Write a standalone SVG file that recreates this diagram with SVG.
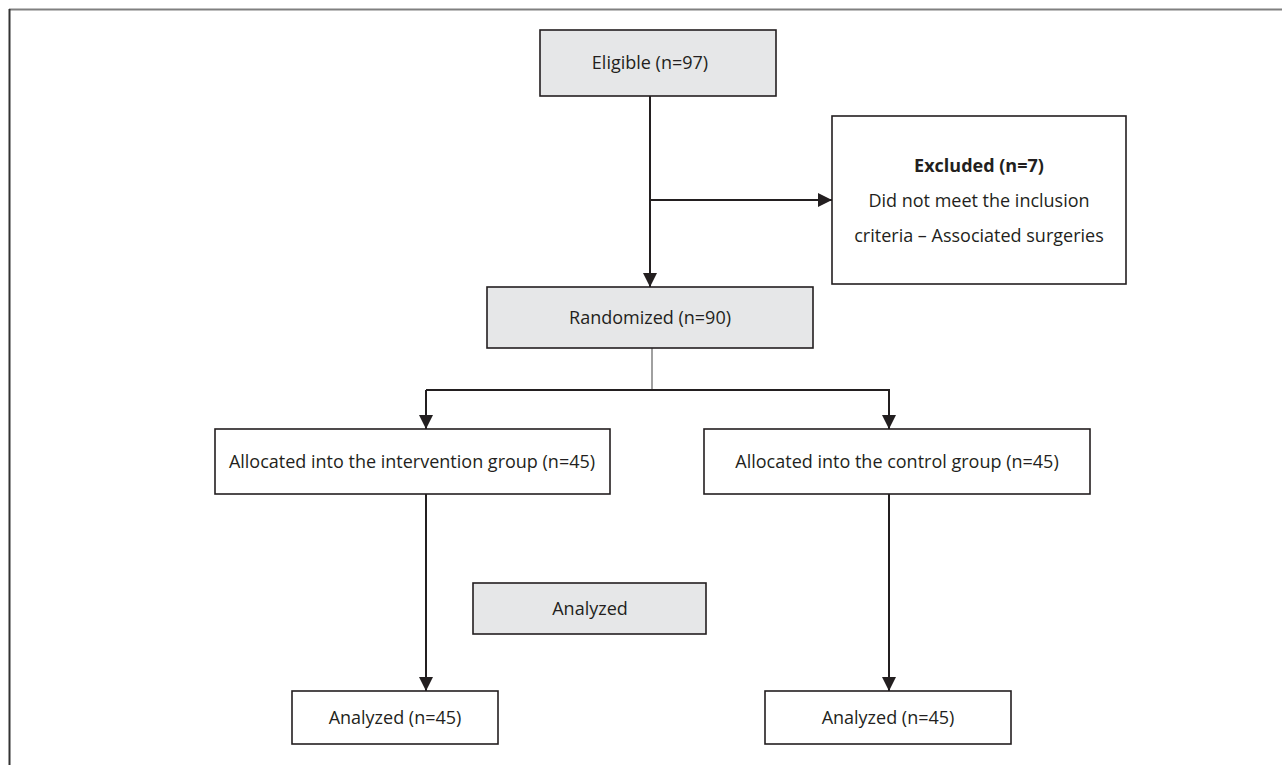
<svg xmlns="http://www.w3.org/2000/svg" width="1282" height="765" viewBox="0 0 1282 765">
<defs>
<style>
.box{fill:#ffffff;stroke:#231f20;stroke-width:1.6}
.gbox{fill:#e6e7e8;stroke:#231f20;stroke-width:1.6}
.t{font-family:"Open Sans","Liberation Sans",sans-serif;font-size:18px;fill:#231f20;text-anchor:middle}
.b{font-weight:bold}
.c{fill:none;stroke:#231f20;stroke-width:2}
</style>
<marker id="arr" viewBox="0 0 10 10" refX="10" refY="5" markerWidth="7" markerHeight="7" markerUnits="strokeWidth" orient="auto">
<path d="M0,0 L10,5 L0,10 z" fill="#231f20"/>
</marker>
</defs>
<rect width="1282" height="765" fill="#ffffff"/>
<g id="frame">
<line x1="9" y1="9.5" x2="1282" y2="9.5" stroke="#808080" stroke-width="2"/>
<line x1="9.5" y1="9" x2="9.5" y2="765" stroke="#333333" stroke-width="2"/>
</g>
<g id="connectors">
<line class="c" x1="650" y1="96" x2="650" y2="287" marker-end="url(#arr)"/>
<line class="c" x1="650" y1="200" x2="832" y2="200" marker-end="url(#arr)"/>
<line x1="652" y1="348" x2="652" y2="389" stroke="#808080" stroke-width="1.5"/>
<polyline class="c" points="426,390 889,390 889,429" marker-end="url(#arr)"/>
<line class="c" x1="426" y1="390" x2="426" y2="429" marker-end="url(#arr)"/>
<line class="c" x1="426" y1="494" x2="426" y2="691" marker-end="url(#arr)"/>
<line class="c" x1="889" y1="494" x2="889" y2="691" marker-end="url(#arr)"/>
</g>
<g id="eligible">
<rect class="gbox" x="540" y="30" width="236" height="66"/>
<text class="t" x="650" y="69">Eligible (n=97)</text>
</g>
<g id="excluded">
<rect class="box" x="832" y="116" width="294" height="168"/>
<text class="t b" x="979" y="172">Excluded (n=7)</text>
<text class="t" x="979" y="207">Did not meet the inclusion</text>
<text class="t" x="979" y="242">criteria – Associated surgeries</text>
</g>
<g id="randomized">
<rect class="gbox" x="487" y="287" width="326" height="61"/>
<text class="t" x="650" y="324">Randomized (n=90)</text>
</g>
<g id="alloc-intervention">
<rect class="box" x="215" y="429" width="395" height="65"/>
<text class="t" x="412" y="468">Allocated into the intervention group (n=45)</text>
</g>
<g id="alloc-control">
<rect class="box" x="704" y="429" width="386" height="65"/>
<text class="t" x="897" y="468">Allocated into the control group (n=45)</text>
</g>
<g id="analyzed-label">
<rect class="gbox" x="473" y="583" width="233" height="51"/>
<text class="t" x="590" y="615">Analyzed</text>
</g>
<g id="analyzed-intervention">
<rect class="box" x="292" y="691" width="206" height="53"/>
<text class="t" x="395" y="724">Analyzed (n=45)</text>
</g>
<g id="analyzed-control">
<rect class="box" x="765" y="691" width="246" height="53"/>
<text class="t" x="888" y="724">Analyzed (n=45)</text>
</g>
</svg>
